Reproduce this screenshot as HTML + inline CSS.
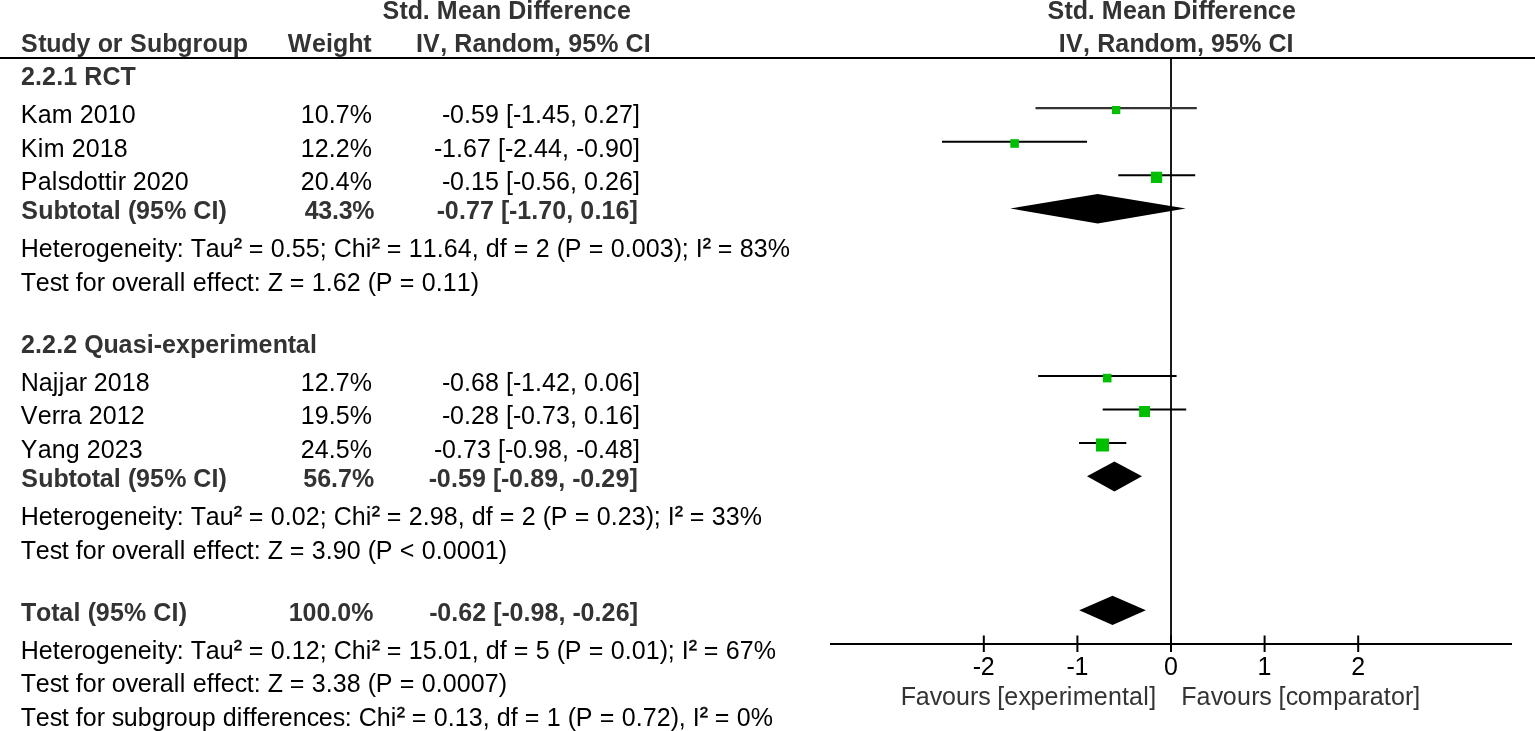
<!DOCTYPE html>
<html>
<head>
<meta charset="utf-8">
<title>Forest plot</title>
<style>
html,body{margin:0;padding:0;background:#fff;width:1535px;height:731px;overflow:hidden;}
svg{display:block;}
text{font-family:"Liberation Sans",Arial,sans-serif;font-size:25px;fill:#000;font-kerning:none;}
.b{font-weight:bold;fill:#333;}
.g{fill:#333;}
.sup{stroke:#000;stroke-width:0.35px;}
</style>
</head>
<body>
<svg width="1535" height="731" viewBox="0 0 1535 731">
<rect width="1535" height="731" fill="#fff"/>
<rect x="0" y="57" width="1535" height="2" fill="#000"/>
<rect x="1170" y="59" width="2" height="585" fill="#1a1a1a"/>
<g stroke="#000" stroke-width="2" fill="none">
  <line x1="1035.5" y1="108.1" x2="1196.8" y2="108.1" stroke="#333" stroke-width="2.2"/>
  <line x1="942" y1="141.75" x2="1087" y2="141.75"/>
  <line x1="1118.3" y1="175.2" x2="1195.2" y2="175.2"/>
  <line x1="1038.2" y1="375.9" x2="1176.6" y2="375.9"/>
  <line x1="1102.7" y1="409.4" x2="1186.2" y2="409.4"/>
  <line x1="1079" y1="442.9" x2="1126.3" y2="442.9"/>
</g>
<g fill="#00bf00">
  <rect x="1112" y="106" width="8.3" height="8.1"/>
  <rect x="1010.3" y="139.2" width="8.6" height="8.6"/>
  <rect x="1150.9" y="171.7" width="11.3" height="11.3"/>
  <rect x="1102.9" y="373.8" width="8.6" height="8.6"/>
  <rect x="1139.1" y="406" width="10.9" height="11.1"/>
  <rect x="1096" y="438.5" width="13" height="13"/>
</g>
<g fill="#000">
  <polygon points="1010.2,208.45 1097.7,193.9 1185.7,208.45 1097.7,223.4"/>
  <polygon points="1087,476.2 1114.4,461.5 1142,476.2 1114.4,491.6"/>
  <polygon points="1079.2,610.3 1112.5,595.7 1145.9,610.3 1112.5,624.9"/>
</g>
<rect x="830" y="643" width="682" height="2" fill="#000"/>
<g fill="#000">
  <rect x="982.8" y="635.5" width="2" height="16.5"/>
  <rect x="1076.4" y="635.5" width="2" height="16.5"/>
  <rect x="1170" y="635.5" width="2" height="16.5"/>
  <rect x="1263.6" y="635.5" width="2" height="16.5"/>
  <rect x="1357.2" y="635.5" width="2" height="16.5"/>
</g>

<text class="b" x="382.48 399.58 407.63 422.72 429.76 436.8 457.93 472.01 486.1 501.19 508.23 526.34 533.38 541.43 549.48 563.56 573.62 587.7 602.79 616.88" y="19">Std. Mean Difference</text>
<text class="b" x="21.03 38.18 46.25 61.37 76.5 90.62 97.68 112.81 122.9 129.96 147.11 162.24 177.36 192.49 202.58 217.71 232.84" y="52">Study or Subgroup</text>
<text class="b" x="287.75 311.92 326.02 333.07 348.17 363.28" y="52">Weight</text>
<text class="b" x="416.03 423.08 440.21 447.26 454.31 472.44 486.55 501.66 516.77 531.88 554.04 561.09 568.14 582.25 596.35 618.51 625.57 643.7" y="52">IV, Random, 95% CI</text>
<text class="b" x="1047.48 1064.58 1072.63 1087.72 1094.76 1101.8 1122.93 1137.01 1151.1 1166.19 1173.23 1191.34 1198.38 1206.43 1214.48 1228.56 1238.62 1252.7 1267.79 1281.88" y="19">Std. Mean Difference</text>
<text class="b" x="1058.83 1065.88 1083.02 1090.07 1097.13 1115.27 1129.38 1144.49 1159.61 1174.73 1196.9 1203.96 1211.01 1225.12 1239.23 1261.4 1268.46 1286.6" y="52">IV, Random, 95% CI</text>
<text class="b" x="20.9 35 42.05 56.14 63.19 77.29 84.34 102.47 120.59" y="85">2.2.1 RCT</text>
<text x="20.7 37.7 51.7 72.7 79.7 93.7 107.7 121.7" y="123">Kam 2010</text>
<text x="300.66 314.66 328.66 335.66 349.66" y="123">10.7%</text>
<text x="442.04 450.04 464.04 471.04 485.04 499.04 506.04 513.04 521.04 535.04 542.04 556.04 570.04 577.04 584.04 598.04 605.04 619.04 633.04" y="123">-0.59 [-1.45, 0.27]</text>
<text x="20.7 37.7 43.7 64.7 71.7 85.7 99.7 113.7" y="157">Kim 2018</text>
<text x="300.66 314.66 328.66 335.66 349.66" y="157">12.2%</text>
<text x="434.04 442.04 456.04 463.04 477.04 491.04 498.04 505.04 513.04 527.04 534.04 548.04 562.04 569.04 576.04 584.04 598.04 605.04 619.04 633.04" y="157">-1.67 [-2.44, -0.90]</text>
<text x="20.7 37.7 51.7 57.7 69.7 83.7 97.7 104.7 111.7 117.7 125.7 132.7 146.7 160.7 174.7" y="190">Palsdottir 2020</text>
<text x="300.66 314.66 328.66 335.66 349.66" y="190">20.4%</text>
<text x="442.04 450.04 464.04 471.04 485.04 499.04 506.04 513.04 521.04 535.04 542.04 556.04 570.04 577.04 584.04 598.04 605.04 619.04 633.04" y="190">-0.15 [-0.56, 0.26]</text>
<text class="b" x="21.24 38.35 53.44 68.54 76.59 91.68 99.73 113.82 120.87 127.91 135.96 150.05 164.14 186.28 193.32 211.44 218.48" y="219">Subtotal (95% CI)</text>
<text class="b" x="304.72 318.32 331.93 338.73 352.33" y="219">43.3%</text>
<text class="b" x="436.82 444.85 458.91 465.93 479.99 494.04 501.07 509.1 517.13 531.18 538.21 552.26 566.32 573.34 580.37 594.42 601.45 615.5 629.56" y="219">-0.77 [-1.70, 0.16]</text>
<text x="20.7 38.7 52.7 59.7 73.7 81.7 95.7 109.7 123.7 137.7 151.7 157.7 164.7 176.7 183.7 190.7 205.7 219.7 233.7 241.7 248.7 263.7 270.7 284.7 291.7 305.7 319.7 326.7 333.7 351.7 365.7 371.7 379.7 386.7 401.7 408.7 422.7 436.7 443.7 457.7 471.7 478.7 485.7 499.7 506.7 513.7 528.7 535.7 549.7 556.7 564.7 581.7 588.7 603.7 610.7 624.7 631.7 645.7 659.7 673.7 681.7 688.7 695.7 702.7 710.7 717.7 732.7 739.7 753.7 767.7" y="257 257 257 257 257 257 257 257 257 257 257 257 257 257 257 257 257 257 255 257 257 257 257 257 257 257 257 257 257 257 257 255 257 257 257 257 257 257 257 257 257 257 257 257 257 257 257 257 257 257 257 257 257 257 257 257 257 257 257 257 257 257 257 255 257 257 257 257 257 257">Heterogeneity: Tau<tspan class="sup">²</tspan> = 0.55; Chi<tspan class="sup">²</tspan> = 11.64, df = 2 (P = 0.003); I<tspan class="sup">²</tspan> = 83%</text>
<text x="20.7 35.7 49.7 61.7 68.7 75.7 82.7 96.7 104.7 111.7 125.7 137.7 151.7 159.7 173.7 179.7 185.7 192.7 206.7 213.7 220.7 234.7 246.7 253.7 260.7 267.7 282.7 289.7 304.7 311.7 325.7 332.7 346.7 360.7 367.7 375.7 392.7 399.7 414.7 421.7 435.7 442.7 456.7 470.7" y="291">Test for overall effect: Z = 1.62 (P = 0.11)</text>
<text class="b" x="20.9 35 42.05 56.14 63.19 77.29 84.34 103.47 118.58 132.68 146.78 153.82 161.88 175.98 190.08 205.18 219.28 229.35 236.4 258.55 272.65 287.75 295.81 309.91" y="353">2.2.2 Quasi-experimental</text>
<text x="20.7 38.7 52.7 58.7 64.7 78.7 86.7 93.7 107.7 121.7 135.7" y="391">Najjar 2018</text>
<text x="300.66 314.66 328.66 335.66 349.66" y="391">12.7%</text>
<text x="442.04 450.04 464.04 471.04 485.04 499.04 506.04 513.04 521.04 535.04 542.04 556.04 570.04 577.04 584.04 598.04 605.04 619.04 633.04" y="391">-0.68 [-1.42, 0.06]</text>
<text x="20.7 37.7 51.7 59.7 67.7 81.7 88.7 102.7 116.7 130.7" y="424">Verra 2012</text>
<text x="300.66 314.66 328.66 335.66 349.66" y="424">19.5%</text>
<text x="442.04 450.04 464.04 471.04 485.04 499.04 506.04 513.04 521.04 535.04 542.04 556.04 570.04 577.04 584.04 598.04 605.04 619.04 633.04" y="424">-0.28 [-0.73, 0.16]</text>
<text x="20.7 37.7 51.7 65.7 79.7 86.7 100.7 114.7 128.7" y="458">Yang 2023</text>
<text x="300.66 314.66 328.66 335.66 349.66" y="458">24.5%</text>
<text x="434.04 442.04 456.04 463.04 477.04 491.04 498.04 505.04 513.04 527.04 534.04 548.04 562.04 569.04 576.04 584.04 598.04 605.04 619.04 633.04" y="458">-0.73 [-0.98, -0.48]</text>
<text class="b" x="21.24 38.35 53.44 68.54 76.59 91.68 99.73 113.82 120.87 127.91 135.96 150.05 164.14 186.28 193.32 211.44 218.48" y="487">Subtotal (95% CI)</text>
<text class="b" x="303.23 317.13 331.03 337.98 351.88" y="487">56.7%</text>
<text class="b" x="428.82 436.85 450.89 457.92 471.96 486 493.03 501.05 509.08 523.12 530.14 544.19 558.23 565.26 572.28 580.3 594.35 601.37 615.42 629.46" y="487">-0.59 [-0.89, -0.29]</text>
<text x="20.7 38.7 52.7 59.7 73.7 81.7 95.7 109.7 123.7 137.7 151.7 157.7 164.7 176.7 183.7 190.7 205.7 219.7 233.7 241.7 248.7 263.7 270.7 284.7 291.7 305.7 319.7 326.7 333.7 351.7 365.7 371.7 379.7 386.7 401.7 408.7 422.7 429.7 443.7 457.7 464.7 471.7 485.7 492.7 499.7 514.7 521.7 535.7 542.7 550.7 567.7 574.7 589.7 596.7 610.7 617.7 631.7 645.7 653.7 660.7 667.7 674.7 682.7 689.7 704.7 711.7 725.7 739.7" y="525 525 525 525 525 525 525 525 525 525 525 525 525 525 525 525 525 525 523 525 525 525 525 525 525 525 525 525 525 525 525 523 525 525 525 525 525 525 525 525 525 525 525 525 525 525 525 525 525 525 525 525 525 525 525 525 525 525 525 525 525 523 525 525 525 525 525 525">Heterogeneity: Tau<tspan class="sup">²</tspan> = 0.02; Chi<tspan class="sup">²</tspan> = 2.98, df = 2 (P = 0.23); I<tspan class="sup">²</tspan> = 33%</text>
<text x="20.7 35.7 49.7 61.7 68.7 75.7 82.7 96.7 104.7 111.7 125.7 137.7 151.7 159.7 173.7 179.7 185.7 192.7 206.7 213.7 220.7 234.7 246.7 253.7 260.7 267.7 282.7 289.7 304.7 311.7 325.7 332.7 346.7 360.7 367.7 375.7 392.7 399.7 414.7 421.7 435.7 442.7 456.7 470.7 484.7 498.7" y="559">Test for overall effect: Z = 3.90 (P &lt; 0.0001)</text>
<text class="b" x="20.92 36.09 51.25 59.34 73.49 80.57 87.65 95.74 109.89 124.05 146.29 153.37 171.57 178.64" y="621">Total (95% CI)</text>
<text class="b" x="288.73 302.62 316.52 330.42 337.37 351.27" y="621">100.0%</text>
<text class="b" x="429.22 437.24 451.27 458.29 472.32 486.35 493.36 501.38 509.4 523.43 530.45 544.48 558.51 565.52 572.54 580.56 594.59 601.6 615.63 629.67" y="621">-0.62 [-0.98, -0.26]</text>
<text x="20.7 38.7 52.7 59.7 73.7 81.7 95.7 109.7 123.7 137.7 151.7 157.7 164.7 176.7 183.7 190.7 205.7 219.7 233.7 241.7 248.7 263.7 270.7 284.7 291.7 305.7 319.7 326.7 333.7 351.7 365.7 371.7 379.7 386.7 401.7 408.7 422.7 436.7 443.7 457.7 471.7 478.7 485.7 499.7 506.7 513.7 528.7 535.7 549.7 556.7 564.7 581.7 588.7 603.7 610.7 624.7 631.7 645.7 659.7 667.7 674.7 681.7 688.7 696.7 703.7 718.7 725.7 739.7 753.7" y="659 659 659 659 659 659 659 659 659 659 659 659 659 659 659 659 659 659 657 659 659 659 659 659 659 659 659 659 659 659 659 657 659 659 659 659 659 659 659 659 659 659 659 659 659 659 659 659 659 659 659 659 659 659 659 659 659 659 659 659 659 659 657 659 659 659 659 659 659">Heterogeneity: Tau<tspan class="sup">²</tspan> = 0.12; Chi<tspan class="sup">²</tspan> = 15.01, df = 5 (P = 0.01); I<tspan class="sup">²</tspan> = 67%</text>
<text x="20.7 35.7 49.7 61.7 68.7 75.7 82.7 96.7 104.7 111.7 125.7 137.7 151.7 159.7 173.7 179.7 185.7 192.7 206.7 213.7 220.7 234.7 246.7 253.7 260.7 267.7 282.7 289.7 304.7 311.7 325.7 332.7 346.7 360.7 367.7 375.7 392.7 399.7 414.7 421.7 435.7 442.7 456.7 470.7 484.7 498.7" y="692">Test for overall effect: Z = 3.38 (P = 0.0007)</text>
<text x="20.7 35.7 49.7 61.7 68.7 75.7 82.7 96.7 104.7 111.7 123.7 137.7 151.7 165.7 173.7 187.7 201.7 215.7 222.7 236.7 242.7 249.7 256.7 270.7 278.7 292.7 306.7 318.7 332.7 344.7 351.7 358.7 376.7 390.7 396.7 404.7 411.7 426.7 433.7 447.7 454.7 468.7 482.7 489.7 496.7 510.7 517.7 524.7 539.7 546.7 560.7 567.7 575.7 592.7 599.7 614.7 621.7 635.7 642.7 656.7 670.7 678.7 685.7 692.7 699.7 707.7 714.7 729.7 736.7 750.7" y="726 726 726 726 726 726 726 726 726 726 726 726 726 726 726 726 726 726 726 726 726 726 726 726 726 726 726 726 726 726 726 726 726 726 724 726 726 726 726 726 726 726 726 726 726 726 726 726 726 726 726 726 726 726 726 726 726 726 726 726 726 726 726 726 724 726 726 726 726 726">Test for subgroup differences: Chi<tspan class="sup">²</tspan> = 0.13, df = 1 (P = 0.72), I<tspan class="sup">²</tspan> = 0%</text>
<text x="972.8 980.8" y="675">-2</text>
<text x="1066.4 1074.4" y="675">-1</text>
<text x="1164" y="675">0</text>
<text x="1257.6" y="675">1</text>
<text x="1351.2" y="675">2</text>
<text class="g" x="900.65 915.74 929.83 941.91 956 970.09 978.14 990.21 997.26 1004.3 1018.39 1030.47 1044.56 1058.65 1066.7 1072.73 1093.87 1107.96 1122.05 1129.09 1143.18 1149.22" y="705">Favours [experimental]</text>
<text class="g" x="1181.35 1196.54 1210.71 1222.86 1237.03 1251.21 1259.31 1271.46 1278.54 1285.63 1297.78 1311.95 1333.22 1347.39 1361.56 1369.66 1383.84 1390.92 1405.1 1413.2" y="705">Favours [comparator]</text>
</svg>
</body>
</html>
